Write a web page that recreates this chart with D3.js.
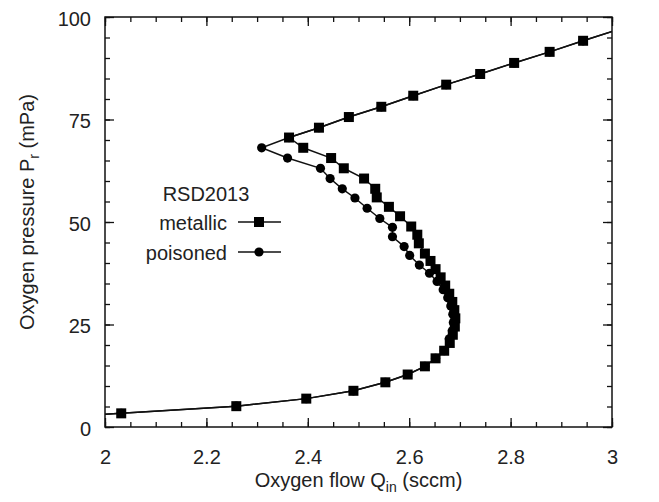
<!DOCTYPE html>
<html>
<head>
<meta charset="utf-8">
<script src="https://cdn.jsdelivr.net/npm/d3@7"></script>
<style>
  body { margin: 0; background: #fff; }
  text { font-family: "Liberation Sans", Arial, Helvetica, sans-serif; fill: #222; }
</style>
</head>
<body>
<svg id="chart" width="659" height="502"></svg>
<script>
// values: oxygen flow (sccm) and oxygen pressure (mPa)
const flowTicks = [2, 2.2, 2.4, 2.6, 2.8, 3];
const pressureTicks = [0, 25, 50, 75, 100];

const metallicFlow = [1.80, 2.032, 2.259, 2.397, 2.490, 2.553, 2.597, 2.631, 2.652, 2.669, 2.680,
  2.686, 2.690, 2.691, 2.689, 2.685, 2.679, 2.671, 2.662, 2.652, 2.642, 2.631, 2.619, 2.616,
  2.604, 2.582, 2.560, 2.536, 2.533, 2.511, 2.471, 2.446, 2.391, 2.363, 2.422, 2.481, 2.545,
  2.608, 2.673, 2.740, 2.807, 2.877, 2.943, 3.009];
const metallicPressure = [1.9, 3.33, 5.08, 6.92, 8.83, 10.9, 12.8, 14.8, 16.75, 18.6, 20.5,
  22.5, 24.5, 26.5, 28.5, 30.5, 32.5, 34.5, 36.5, 38.5, 40.5, 42.3, 44.8, 46.9,
  48.9, 51.4, 53.7, 56.0, 58.1, 60.6, 63.1, 65.6, 68.1, 70.6, 73.0, 75.6, 78.1,
  80.8, 83.5, 86.1, 88.8, 91.5, 94.2, 96.8];

const poisonedFlow = [3.009, 2.943, 2.877, 2.807, 2.740, 2.673, 2.608, 2.545, 2.481, 2.422, 2.363,
  2.309, 2.360, 2.425, 2.444, 2.468, 2.493, 2.517, 2.542, 2.567, 2.567, 2.590, 2.601, 2.620,
  2.640, 2.655, 2.667, 2.676, 2.682, 2.686, 2.687, 2.685, 2.679, 2.669, 2.652, 2.631, 2.597,
  2.553, 2.490, 2.397, 2.259, 2.032, 1.80];
const poisonedPressure = [96.8, 94.2, 91.5, 88.8, 86.1, 83.5, 80.8, 78.1, 75.6, 73.0, 70.6,
  68.1, 65.6, 63.1, 60.6, 58.1, 55.85, 53.35, 50.85, 48.7, 46.4, 44.0, 41.85, 39.5,
  37.5, 35.5, 33.5, 31.5, 29.5, 27.5, 25.5, 23.5, 21.5, 18.6, 16.75, 14.8, 12.8,
  10.9, 8.83, 6.92, 5.08, 3.33, 1.9];

const legendTitle = "RSD2013";
const seriesNames = ["metallic", "poisoned"];

const W = 659, H = 502;
const margin = { left: 105, right: 47, top: 17, bottom: 75 };
const svg = d3.select("#chart");

const x = d3.scaleLinear().domain([2, 3]).range([margin.left, W - margin.right]);
const y = d3.scaleLinear().domain([0, 100]).range([H - margin.bottom, margin.top]);

const metallic = metallicFlow.map((f, i) => [f, metallicPressure[i]]);
const poisoned = poisonedFlow.map((f, i) => [f, poisonedPressure[i]]);

// axes: gnuplot style, ticks inward and mirrored on all four sides
function addAxis(axisFn, scale, transform, labels) {
  const minor = svg.append("g").attr("transform", transform)
    .call(axisFn(scale).ticks(scale === x ? 25 : 20).tickSize(-5).tickFormat(""));
  const major = svg.append("g").attr("transform", transform)
    .call(axisFn(scale).tickValues(scale === x ? flowTicks : pressureTicks).tickSize(-9)
      .tickPadding(scale === x ? 23 : 14)
      .tickFormat(labels ? d3.format("") : ""));
  [minor, major].forEach(g => {
    g.select(".domain").remove();
    g.selectAll("line").attr("stroke", "#111").attr("stroke-width", 1.3);
  });
  major.selectAll("text").attr("font-size", 20).attr("fill", "#222");
  return major;
}
const plotBottom = H - margin.bottom, plotRight = W - margin.right;
addAxis(d3.axisBottom, x, `translate(0,${plotBottom})`, true);
addAxis(d3.axisTop, x, `translate(0,${margin.top})`, false);
addAxis(d3.axisLeft, y, `translate(${margin.left},0)`, true)
  .selectAll("text").attr("dy", "0.4em");
addAxis(d3.axisRight, y, `translate(${plotRight},0)`, false);

svg.append("rect")
  .attr("x", margin.left).attr("y", margin.top)
  .attr("width", plotRight - margin.left).attr("height", plotBottom - margin.top)
  .attr("fill", "none").attr("stroke", "#111").attr("stroke-width", 1.5);

svg.append("clipPath").attr("id", "plotclip").append("rect")
  .attr("x", margin.left).attr("y", margin.top)
  .attr("width", plotRight - margin.left).attr("height", plotBottom - margin.top);

const line = d3.line().x(d => x(d[0])).y(d => y(d[1]));
const plot = svg.append("g").attr("clip-path", "url(#plotclip)");

[poisoned, metallic].forEach(s => {
  plot.append("path").datum(s).attr("d", line)
    .attr("fill", "none").attr("stroke", "#111").attr("stroke-width", 1.5);
});

const inside = d => d[0] >= 2 && d[0] <= 3 && d[1] >= 0 && d[1] <= 100;

plot.selectAll("circle.poisoned").data(poisoned.filter(inside)).enter()
  .append("circle").attr("class", "poisoned")
  .attr("cx", d => x(d[0])).attr("cy", d => y(d[1])).attr("r", 4.6).attr("fill", "#000");

const sq = 10;
plot.selectAll("rect.metallic").data(metallic.filter(inside)).enter()
  .append("rect").attr("class", "metallic")
  .attr("x", d => x(d[0]) - sq / 2).attr("y", d => y(d[1]) - sq / 2)
  .attr("width", sq).attr("height", sq).attr("fill", "#000");

// axis titles with subscripts
const xTitle = svg.append("text").attr("x", (margin.left + plotRight) / 2).attr("y", 487)
  .attr("text-anchor", "middle").attr("font-size", 20);
xTitle.append("tspan").text("Oxygen flow Q");
xTitle.append("tspan").text("in").attr("font-size", 14).attr("dy", 5);
xTitle.append("tspan").text(" (sccm)").attr("dy", -5);

const yTitle = svg.append("text")
  .attr("transform", `translate(34,${(margin.top + plotBottom) / 2 - 10}) rotate(-90)`)
  .attr("text-anchor", "middle").attr("font-size", 20);
yTitle.append("tspan").text("Oxygen pressure P");
yTitle.append("tspan").text("r").attr("font-size", 14).attr("dy", 5);
yTitle.append("tspan").text(" (mPa)").attr("dy", -5);

// legend
const legend = svg.append("g");
legend.append("text").attr("x", 206).attr("y", 201).attr("text-anchor", "middle")
  .attr("font-size", 20).text(legendTitle);
const keys = legend.selectAll("g.key").data(seriesNames).enter().append("g")
  .attr("class", "key").attr("transform", (d, i) => `translate(0,${222 + 30 * i})`);
keys.append("text").attr("x", 227).attr("y", 8).attr("text-anchor", "end")
  .attr("font-size", 20).text(d => d);
keys.append("line").attr("x1", 238).attr("x2", 281).attr("y1", 0).attr("y2", 0)
  .attr("stroke", "#111").attr("stroke-width", 1.5);
keys.each(function (d, i) {
  const g = d3.select(this);
  if (i === 0) {
    g.append("rect").attr("x", 259 - sq / 2).attr("y", -sq / 2)
      .attr("width", sq).attr("height", sq).attr("fill", "#000");
  } else {
    g.append("circle").attr("cx", 259).attr("cy", 0).attr("r", 4.6).attr("fill", "#000");
  }
});
</script>
</body>
</html>
